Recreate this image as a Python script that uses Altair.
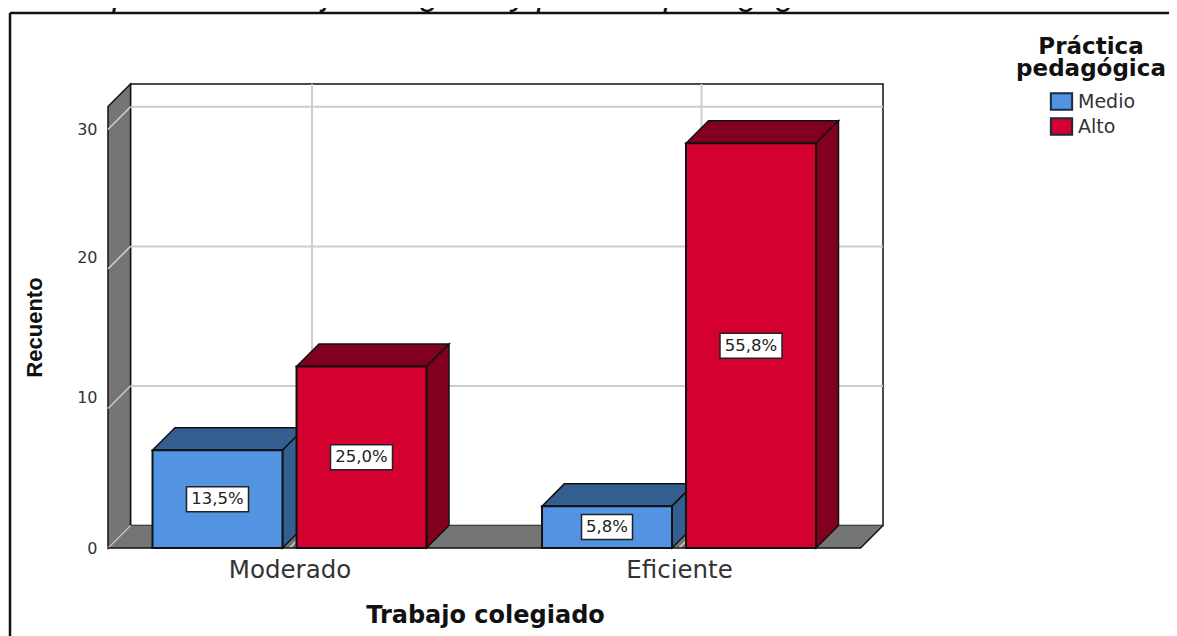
import altair as alt
import pandas as pd

# ---- values ----
categories = ["Moderado", "Eficiente"]
series = ["Medio", "Alto"]
medio_counts = [7, 3]
alto_counts = [13, 29]
medio_labels = ["13,5%", "5,8%"]
alto_labels = ["25,0%", "55,8%"]
y_ticks = [0, 10, 20, 30]

# ---- styling / projection constants ----
PX_X = 389.5            # pixels per category step
W, H = 775, 464
XMIN = -0.466
XMAX = XMIN + W / PX_X
YMAX = 33.25
PX_Y = H / YMAX
DX = 22.5 / PX_X        # depth of the 3D box in x units
DY = 22.5 / PX_Y        # depth of the 3D box in y units
FRONT_R = 1.466
OFFS = 72 / PX_X
HALF = 65 / PX_X
BLUE, BLUE_D = "#5294E2", "#345E90"
RED, RED_D = "#D4002F", "#82001F"
GRAY = "#757575"
GRID = "#CCCCCC"
EDGE = "#111111"
FONT = "DejaVu Sans"
PAD_R, PAD_B = 286, 88

xs = alt.Scale(domain=[XMIN, XMAX], nice=False, zero=False)
ys = alt.Scale(domain=[0, YMAX], nice=False, zero=False)

x_axis = alt.Axis(
    values=[0, 1],
    labelExpr="datum.value == 0 ? '%s' : '%s'" % tuple(categories),
    domain=False, ticks=False, grid=False, labelFont=FONT, labelFontSize=24.5,
    labelColor="#333333", labelPadding=10, titleFont=FONT, titleFontSize=24,
    titleFontWeight="bold", titleColor="#111111", titleX=377, titleY=55,
    labelFlush=False, labelOverlap=False)
y_axis = alt.Axis(
    values=y_ticks, domain=False, ticks=False, grid=False, labelFont=FONT,
    labelFontSize=16, labelColor="#333333", labelPadding=11,
    labelOffset={"condition": {"test": "datum.value == 10 || datum.value == 20", "value": -11}, "value": 0},
    titleFont="Liberation Sans", titleFontSize=22, titleFontWeight="bold",
    titleColor="#111111", titleX=-62, titleY=243)


def X(f):
    return alt.X(f, type="quantitative", scale=xs, axis=x_axis, title="Trabajo colegiado")


def Y(f):
    return alt.Y(f, type="quantitative", scale=ys, axis=y_axis, title="Recuento")


one = pd.DataFrame({"a": [0]})

# ---- walls ----
back = alt.Chart(pd.DataFrame([{"x": XMIN + DX, "x2": XMAX, "y": DY, "y2": YMAX}])).mark_rect(
    fill="white", stroke=EDGE, strokeWidth=1.5
).encode(x=X("x"), x2="x2:Q", y=Y("y"), y2="y2:Q")

wall_df = pd.DataFrame({"x": [XMIN, XMIN + DX], "lo": [0, DY], "hi": [YMAX - DY, YMAX]})
left_wall = alt.Chart(wall_df).mark_area(
    orient="vertical", fill=GRAY, stroke=EDGE, strokeWidth=1.5
).encode(x=X("x"), y=Y("lo"), y2="hi:Q")

floor_df = pd.DataFrame({"y": [0, DY], "lo": [XMIN, XMIN + DX], "hi": [FRONT_R, FRONT_R + DX]})
floor = alt.Chart(floor_df).mark_area(orient="horizontal", fill=GRAY).encode(
    y=Y("y"), x=X("lo"), x2="hi:Q"
)
floor_edge_df = pd.DataFrame({"x": [XMIN, FRONT_R, FRONT_R + DX], "y": [0, 0, DY], "o": [0, 1, 2]})
floor_edge = alt.Chart(floor_edge_df).mark_line(color=EDGE, strokeWidth=1.5).encode(
    x=X("x"), y=Y("y"), order="o:Q"
)

# ---- grid ----
h_grid = alt.Chart(pd.DataFrame({"y": [v + DY for v in y_ticks[1:]]})).mark_rule(
    color=GRID, strokeWidth=2
).encode(y=Y("y"), x=alt.value(DX * PX_X), x2=alt.value(W))
v_grid = alt.Chart(pd.DataFrame({"x": [i + DX for i in range(len(categories))]})).mark_rule(
    color=GRID, strokeWidth=2
).encode(x=X("x"), y=alt.value(0), y2=alt.value(H - DY * PX_Y))

diag_rows = []
for v in y_ticks:
    diag_rows += [{"k": "y%d" % v, "x": XMIN, "y": v}, {"k": "y%d" % v, "x": XMIN + DX, "y": v + DY}]
for i in range(len(categories)):
    diag_rows += [{"k": "c%d" % i, "x": i, "y": 0}, {"k": "c%d" % i, "x": i + DX, "y": DY}]
diag = alt.Chart(pd.DataFrame(diag_rows)).mark_line(color=GRID, strokeWidth=1.5).encode(
    x=X("x"), y=Y("y"), detail="k:N"
)


# ---- bars ----
def bars(name, counts, sign, dark):
    rows = [{"c": i, "v": v, "x0": i + sign * OFFS - HALF, "x1": i + sign * OFFS + HALF}
            for i, v in enumerate(counts)]
    top, side = [], []
    for r in rows:
        top += [{"c": r["c"], "y": r["v"], "a": r["x0"], "b": r["x1"]},
                {"c": r["c"], "y": r["v"] + DY, "a": r["x0"] + DX, "b": r["x1"] + DX}]
        side += [{"c": r["c"], "x": r["x1"], "lo": 0, "hi": r["v"]},
                 {"c": r["c"], "x": r["x1"] + DX, "lo": DY, "hi": r["v"] + DY}]
    t = alt.Chart(pd.DataFrame(top)).mark_area(
        orient="horizontal", fill=dark, stroke=EDGE, strokeWidth=1.5
    ).encode(y=Y("y"), x=X("a"), x2="b:Q", detail="c:N")
    s = alt.Chart(pd.DataFrame(side)).mark_area(
        orient="vertical", fill=dark, stroke=EDGE, strokeWidth=1.5
    ).encode(x=X("x"), y=Y("lo"), y2="hi:Q", detail="c:N")
    df = pd.DataFrame(rows)
    df["s"] = name
    df["zero"] = 0
    f = alt.Chart(df).mark_rect(stroke=EDGE, strokeWidth=2).encode(
        x=X("x0"), x2="x1:Q", y=Y("zero"), y2="v:Q",
        color=alt.Color("s:N", scale=alt.Scale(domain=series, range=[BLUE, RED]), legend=alt.Legend(
            title=None, orient="none", legendX=943, legendY=7, padding=0,
            symbolType="M -1.17 -0.92 H 1.17 V 0.92 H -1.17 Z", symbolSize=331,
            symbolStrokeColor="#1a2a40",
            symbolStrokeWidth=2, labelFont=FONT, labelFontSize=19, labelColor="#333333",
            labelOffset=6, rowPadding=0, symbolOpacity=1)),
    )
    return [t, s, f]


def labels(counts, texts, sign):
    rows = []
    for i, (v, t) in enumerate(zip(counts, texts)):
        half_w = (25.5 if len(t) == 4 else 31) / PX_X
        half_h = 12.5 / PX_Y
        cx = i + sign * OFFS
        rows.append({"t": t, "cx": cx, "cy": v / 2, "a": cx - half_w, "b": cx + half_w,
                     "lo": v / 2 - half_h, "hi": v / 2 + half_h})
    return pd.DataFrame(rows)


lab = pd.concat([labels(medio_counts, medio_labels, -1), labels(alto_counts, alto_labels, 1)])
lab_box = alt.Chart(lab).mark_rect(fill="white", stroke="#222222", strokeWidth=1.5).encode(
    x=X("a"), x2="b:Q", y=Y("lo"), y2="hi:Q"
)
lab_txt = alt.Chart(lab).mark_text(font=FONT, fontSize=16.5, color="#222222", baseline="middle").encode(
    x=X("cx"), y=Y("cy"), text="t:N"
)

# ---- page furniture ----
frame_left = alt.Chart(one).mark_rule(color="#111111", strokeWidth=2.5).encode(
    x=alt.value(-98), y=alt.value(-71), y2=alt.value(H + PAD_B)
)
frame_top = alt.Chart(one).mark_rule(color="#111111", strokeWidth=2.5).encode(
    y=alt.value(-71), x=alt.value(-98), x2=alt.value(W + PAD_R)
)
legend_title = alt.Chart(one).mark_text(
    text=["Práctica", "pedagógica"], font=FONT, fontSize=23, fontWeight="bold", color="#111111",
    lineHeight=22, align="center", baseline="alphabetic"
).encode(x=alt.value(983), y=alt.value(-30))
main_title = alt.Chart(one).mark_text(
    text="Descriptivo del trabajo colegiado y práctica pedagógica", font="Liberation Sans",
    fontSize=33.5, fontStyle="italic", color="#111111", align="left", baseline="alphabetic"
).encode(x=alt.value(-90), y=alt.value(-79))

chart = alt.layer(
    frame_left, frame_top, main_title,
    back, left_wall, floor, h_grid, v_grid, diag, floor_edge,
    *bars(series[0], medio_counts, -1, BLUE_D),
    *bars(series[1], alto_counts, 1, RED_D),
    lab_box, lab_txt, legend_title,
).properties(
    width=W, height=H,
    padding={"left": 100, "top": 76, "right": PAD_R, "bottom": PAD_B},
    autosize=alt.AutoSizeParams(type="none"),
).configure_view(stroke=None)

chart.save("out.html", embed_options={"renderer": "svg", "actions": False})
